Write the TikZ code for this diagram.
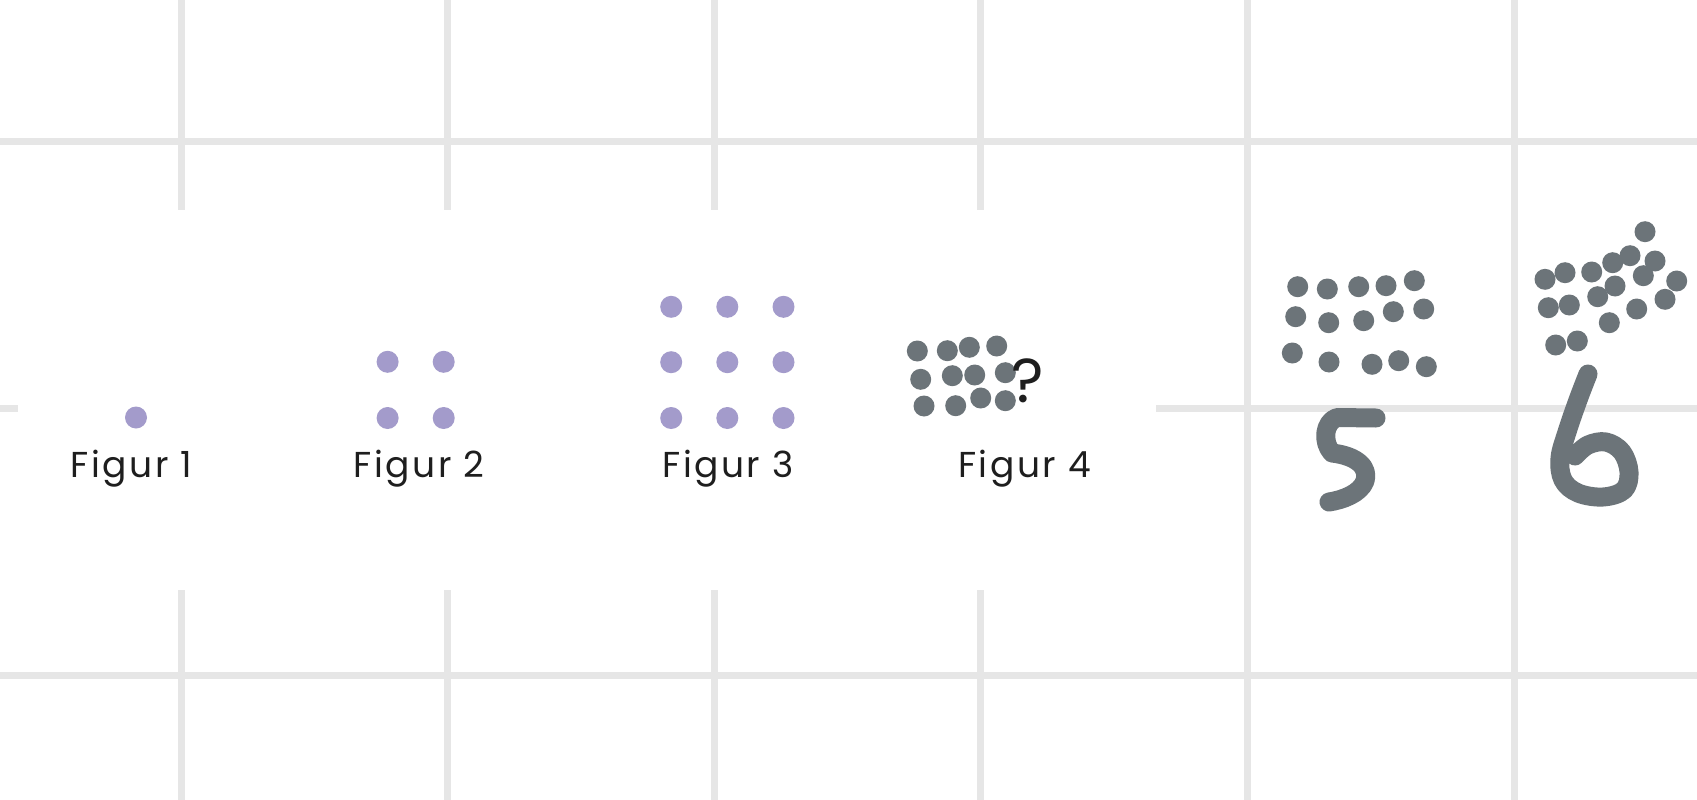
\documentclass[tikz,border=0pt]{standalone}
\usepackage{fontspec}
\setmainfont{Poppins}
\newfontfamily\lblfont[LetterSpace=7]{Poppins}
\definecolor{gridc}{HTML}{E6E6E6}
\definecolor{purp}{HTML}{A39BCB}
\definecolor{grayd}{HTML}{6C7479}
\definecolor{txt}{HTML}{1E1E1E}
\tikzset{
  gridline/.style={draw=gridc,line width=7pt},
  pdot/.style={circle,fill=purp,inner sep=0pt,minimum size=22pt},
  gdot/.style={circle,fill=grayd,inner sep=0pt,minimum size=21pt},
  lbl/.style={anchor=base,text=txt,font=\lblfont\fontsize{36}{40}\selectfont,inner sep=0pt},
  hand/.style={draw=grayd,line width=19pt,line cap=round,line join=round},
}
\begin{document}
\begin{tikzpicture}[x=1pt,y=-1pt]
\useasboundingbox (0,0) rectangle (1697,800);
\fill[white] (0,0) rectangle (1697,800);
% grid
\foreach \gx in {181,447.6,714.2,980.8,1247.4,1514}
  \draw[gridline] (\gx,0) -- (\gx,800);
\foreach \gy in {141.5,408.5,675}
  \draw[gridline] (0,\gy) -- (1697,\gy);
% white panel
\fill[white] (17.7,210) rectangle (1156,590);
% Figur 1
\node[pdot] (a1) at (136,417.5) {};
% Figur 2
\node[pdot] (b1) at (387.6,361.8) {};
\node[pdot] (b2) at (443.7,361.8) {};
\node[pdot] (b3) at (387.6,418) {};
\node[pdot] (b4) at (443.7,418) {};
% Figur 3
\foreach \i/\cx in {1/671.2,2/727.3,3/783.5}
  \foreach \j/\cy in {1/306.8,2/362.2,3/418}
    \node[pdot] (c\i\j) at (\cx,\cy) {};
% labels
\node[lbl] (l1) at (131.5,477) {Figur 1};
\node[lbl] (l2) at (419,477) {Figur 2};
\node[lbl] (l3) at (728,477) {Figur 3};
\node[lbl] (l4) at (1024.5,477) {Figur 4};
% Figur 4 dots
\foreach \n/\cx/\cy in {1/917.3/351,2/947.3/350.7,3/969.3/347.3,4/996.7/346,
  5/920.7/379.3,6/952.3/375.7,7/974.7/375,8/1005.3/372.7,
  9/924/406,10/955.7/405.7,11/980.7/398,12/1005.3/400.7}
  \node[gdot] (d\n) at (\cx,\cy) {};
\node[anchor=base,text=txt,font=\fontsize{62}{66}\selectfont,inner sep=0pt] (q) at (1028,402) {?};
% dots 5
\foreach \n/\cx/\cy in {1/1297.7/286.7,2/1327.3/289,3/1358.7/286.7,4/1386/285.7,5/1414.3/280.7,
  6/1295.7/316.7,7/1328.7/322.7,8/1363.7/320.7,9/1393.3/311.7,10/1423.7/309,
  11/1292.3/353,12/1329/362,13/1372/364.3,14/1398.7/360.7,15/1426.3/366.7}
  \node[gdot] (e\n) at (\cx,\cy) {};
% dots 6
\foreach \n/\cx/\cy in {1/1645/231.7,2/1630/255.7,3/1655/261,4/1612.7/262.7,5/1643.3/275.7,
  6/1591.7/272,7/1565/272.7,8/1545/279.3,9/1676.7/281,10/1615/286,11/1597.7/296.7,
  12/1665/299.3,13/1569.3/305,14/1548.3/307.7,15/1636.7/309,16/1609.3/322.7,
  17/1577.3/341,18/1555.7/345}
  \node[gdot] (f\n) at (\cx,\cy) {};
% handwritten 5
\draw[hand] (1376,418) -- (1337,417.5) .. controls (1324,422) and (1322,442) .. (1332,453)
  .. controls (1358,456) and (1369,468) .. (1365,481) .. controls (1360,494) and (1342,500) .. (1329,502);
% handwritten 6
\draw[hand] plot[smooth,tension=0.6] coordinates {(1588,374) (1578,400) (1567,432) (1560,458) (1563,480) (1578,493) (1603,497) (1624,490) (1629,472) (1622,452) (1606,442) (1588,445) (1575,456)};
\end{tikzpicture}
\end{document}
